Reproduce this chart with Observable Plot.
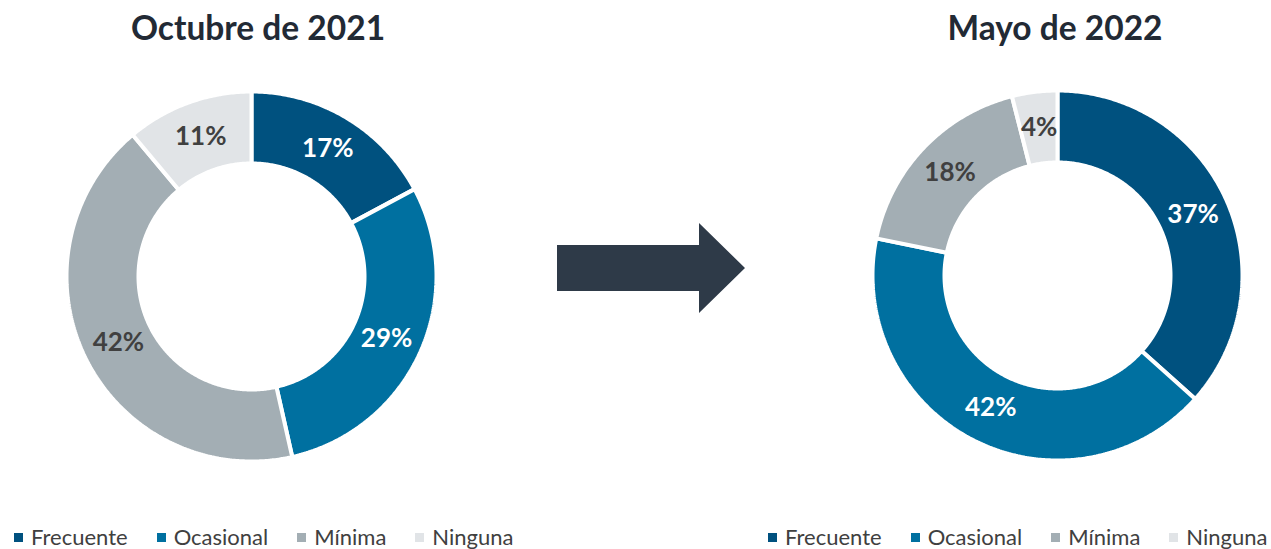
<!DOCTYPE html>
<html>
<head>
<meta charset="utf-8">
<script src="https://cdn.jsdelivr.net/npm/d3@7"></script>
<script src="https://cdn.jsdelivr.net/npm/@observablehq/plot@0.6"></script>
<style>
  html, body { margin: 0; padding: 0; background: #fff; }
  body { width: 1271px; height: 549px; position: relative; overflow: hidden; font-family: Lato, "Open Sans", sans-serif; }
  .title { position: absolute; font-weight: bold; font-size: 33.5px; color: #222a35; line-height: 1; white-space: nowrap; transform: translateX(-50%); }
  .chart { position: absolute; }
  .legend { position: absolute; display: flex; align-items: center; font-size: 22px; color: #404040; line-height: 1; white-space: nowrap; }
  .legend .item { display: inline-flex; align-items: center; margin-right: 29px; }
  .legend .sw { width: 9px; height: 9px; margin-right: 8px; display: inline-block; }
  .arrow { position: absolute; left: 0; top: 0; }
</style>
</head>
<body>
<script>
// ---- data ----
const categories = ["Frecuente", "Ocasional", "Mínima", "Ninguna"];
const octubre2021 = [17, 29, 42, 11];
const mayo2022 = [37, 42, 18, 4];
const titles = ["Octubre de 2021", "Mayo de 2022"];
const colors = ["#00517f", "#0070a0", "#a3aeb4", "#e1e4e7"];
const labelColors = ["#ffffff", "#ffffff", "#404040", "#404040"];

// ---- layout ----
const R_OUT = 185, R_IN = 113, R_LAB = 148.5, HALF = 186;
const panels = [
  {title: titles[0], values: octubre2021, cx: 251, cy: 276, titleX: 258, legendX: 14},
  {title: titles[1], values: mayo2022, cx: 1057, cy: 275, titleX: 1055, legendX: 768}
];

function donut(values) {
  const rows = categories.map((c, i) => ({category: c, value: values[i]}));
  const arcs = d3.pie().sort(null).value(d => d.value).startAngle(0).endAngle(2 * Math.PI)(rows);
  const pts = [];
  const labels = [];
  arcs.forEach(a => {
    const n = Math.max(4, Math.ceil((a.endAngle - a.startAngle) / 0.01));
    for (let k = 0; k <= n; k++) {
      const t = a.startAngle + (a.endAngle - a.startAngle) * k / n;
      pts.push({category: a.data.category, x: R_OUT * Math.sin(t), y: R_OUT * Math.cos(t)});
    }
    for (let k = n; k >= 0; k--) {
      const t = a.startAngle + (a.endAngle - a.startAngle) * k / n;
      pts.push({category: a.data.category, x: R_IN * Math.sin(t), y: R_IN * Math.cos(t)});
    }
    const m = (a.startAngle + a.endAngle) / 2;
    labels.push({category: a.data.category, text: a.data.value + "%", x: R_LAB * Math.sin(m), y: R_LAB * Math.cos(m)});
  });
  return Plot.plot({
    width: 2 * HALF, height: 2 * HALF, margin: 0,
    x: {domain: [-HALF, HALF], axis: null},
    y: {domain: [-HALF, HALF], axis: null},
    color: {domain: categories, range: colors},
    style: {background: "transparent", overflow: "visible"},
    marks: [
      Plot.line(pts, {x: "x", y: "y", z: "category", fill: "category", stroke: "#ffffff", strokeWidth: 4, curve: "linear-closed", strokeLinejoin: "miter"}),
      Plot.text(labels, {x: "x", y: "y", text: "text",
        fill: d => labelColors[categories.indexOf(d.category)],
        fontSize: 26, fontWeight: "bold", fontFamily: "Lato, sans-serif"})
    ]
  });
}

panels.forEach(p => {
  const t = document.createElement("div");
  t.className = "title";
  t.textContent = p.title;
  t.style.left = p.titleX + "px";
  t.style.top = "11px";
  document.body.appendChild(t);

  const wrap = document.createElement("div");
  wrap.className = "chart";
  wrap.style.left = (p.cx - HALF) + "px";
  wrap.style.top = (p.cy - HALF) + "px";
  wrap.appendChild(donut(p.values));
  document.body.appendChild(wrap);

  const lg = document.createElement("div");
  lg.className = "legend";
  lg.style.left = p.legendX + "px";
  lg.style.top = "526px";
  categories.forEach((c, i) => {
    const it = document.createElement("span");
    it.className = "item";
    const sw = document.createElement("span");
    sw.className = "sw";
    sw.style.background = colors[i];
    it.appendChild(sw);
    it.appendChild(document.createTextNode(c));
    lg.appendChild(it);
  });
  document.body.appendChild(lg);
});

// arrow between the two donuts
const ns = "http://www.w3.org/2000/svg";
const svg = document.createElementNS(ns, "svg");
svg.setAttribute("class", "arrow");
svg.setAttribute("width", 1271);
svg.setAttribute("height", 549);
const poly = document.createElementNS(ns, "polygon");
poly.setAttribute("points", "557,245 699,245 699,223 745,268 699,313 699,291 557,291");
poly.setAttribute("fill", "#2e3a48");
svg.appendChild(poly);
document.body.appendChild(svg);
</script>
</body>
</html>
